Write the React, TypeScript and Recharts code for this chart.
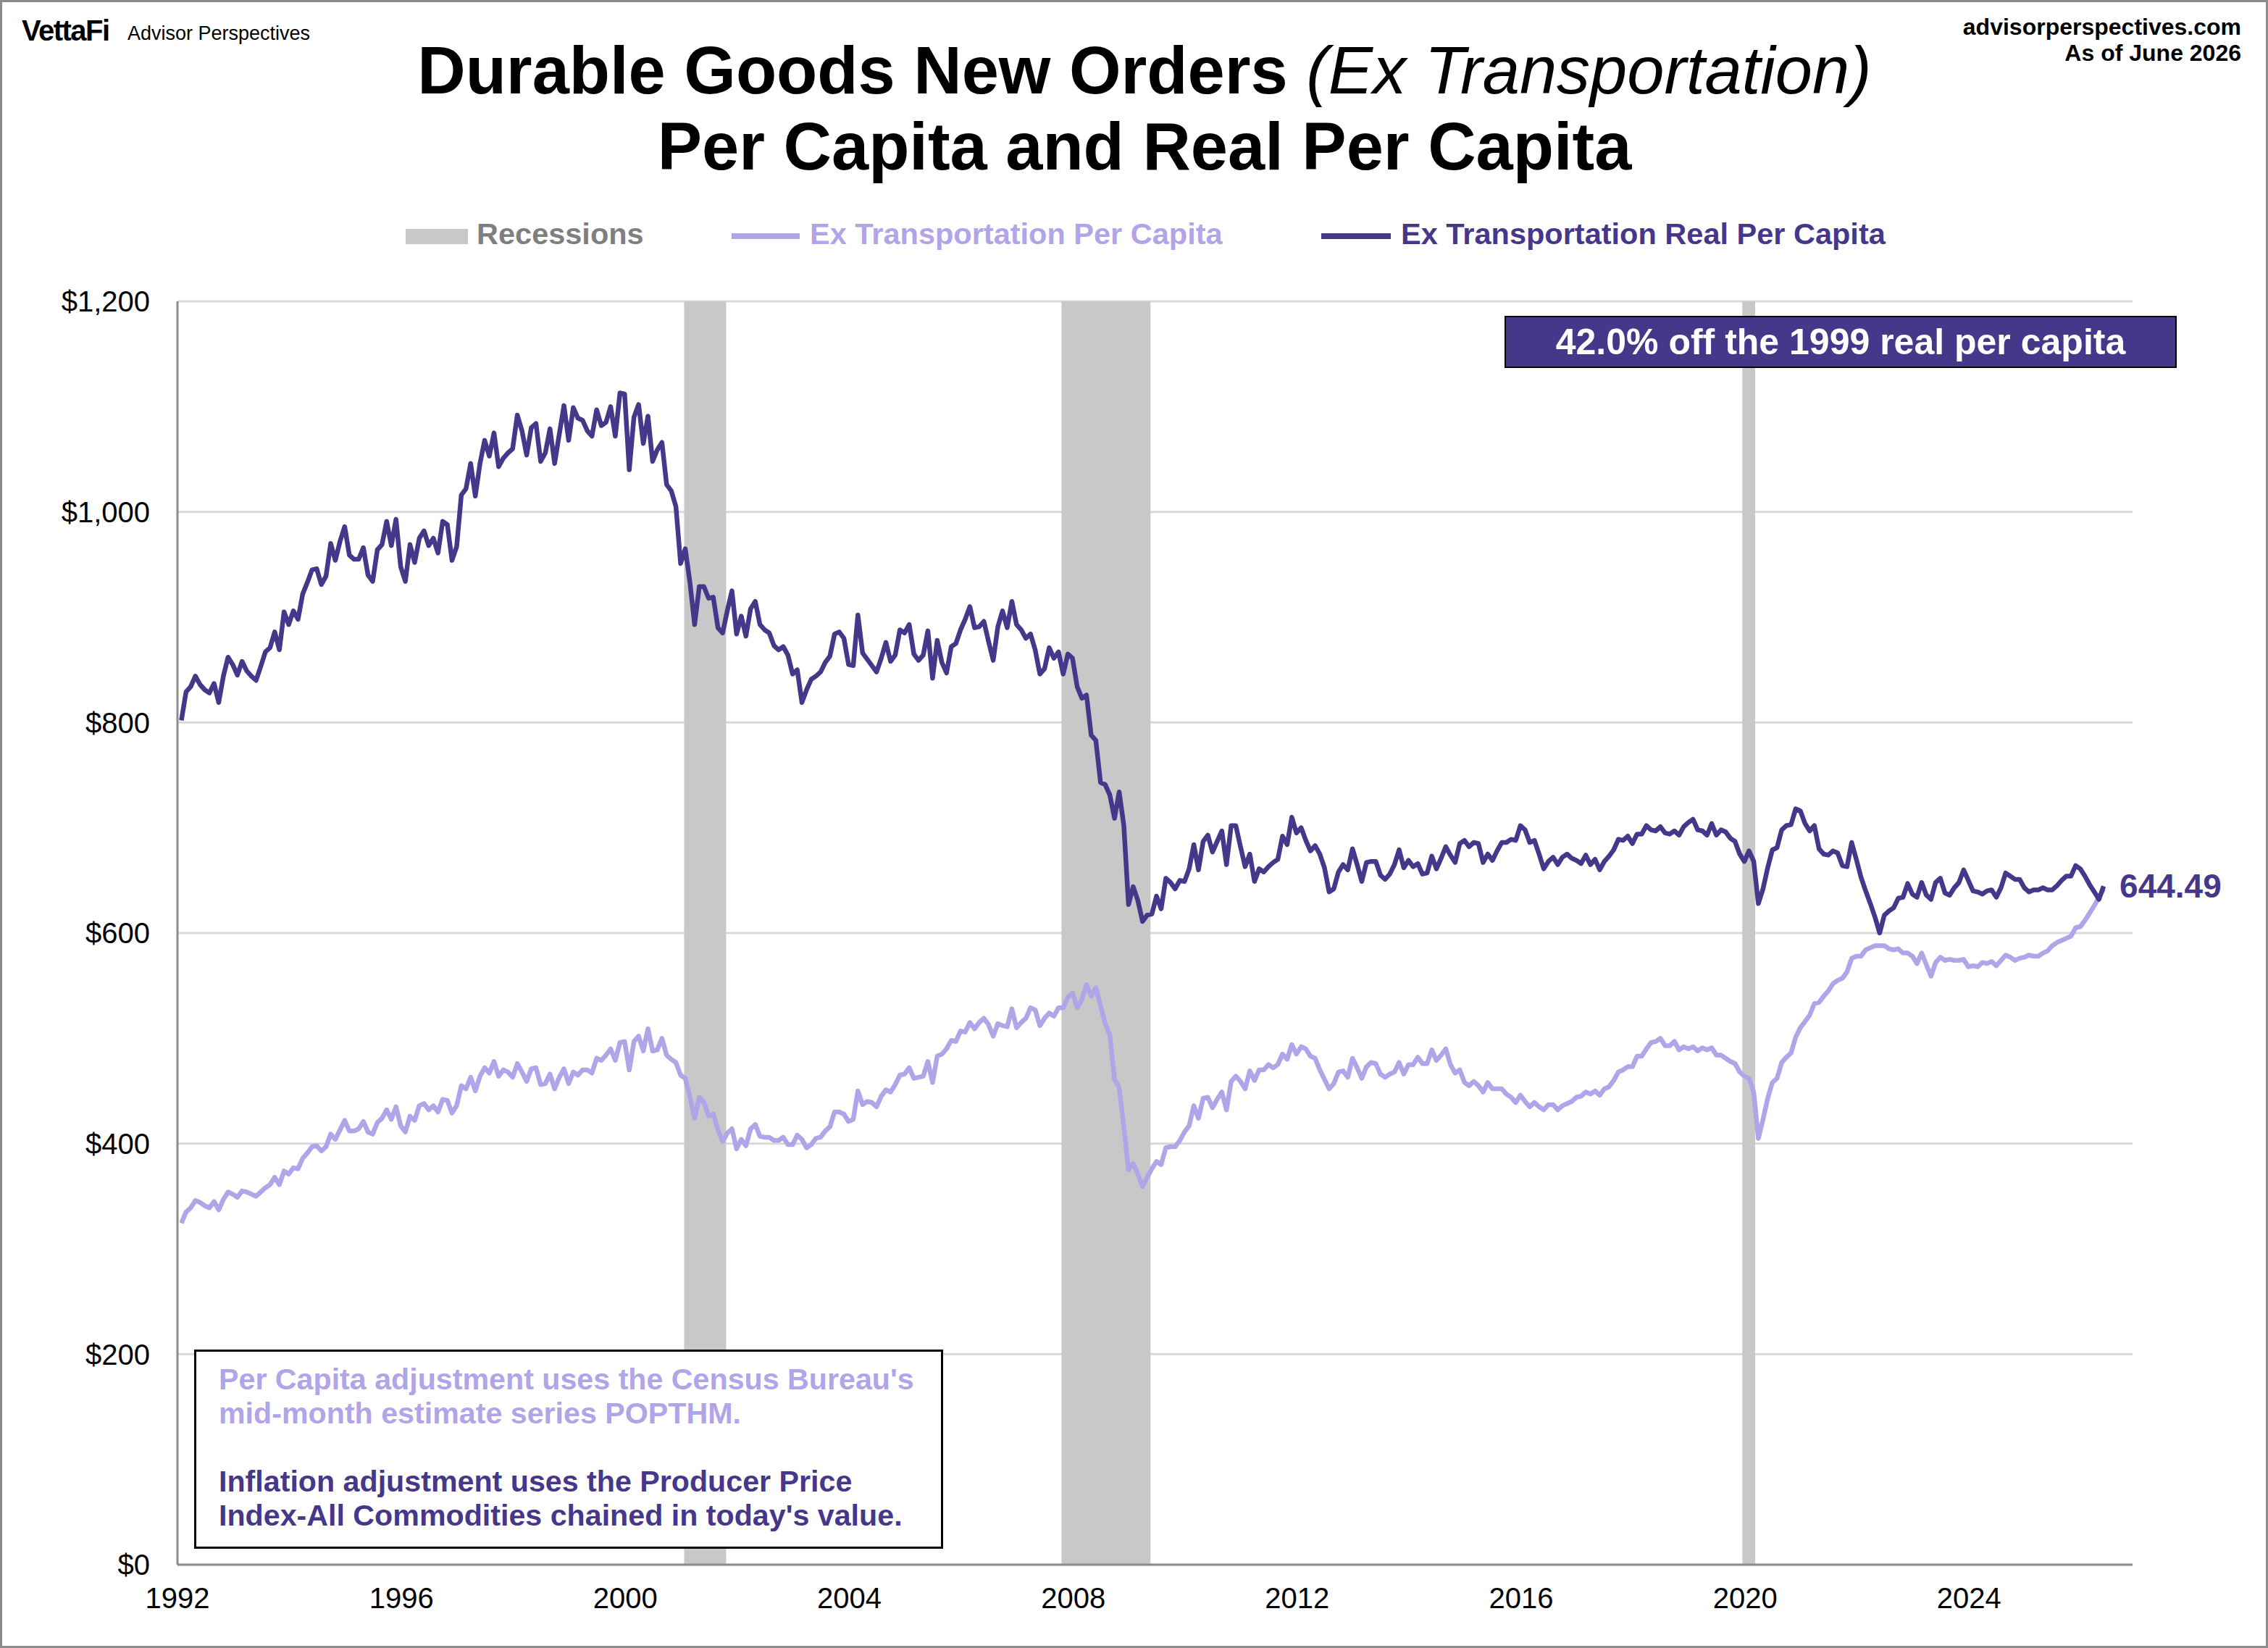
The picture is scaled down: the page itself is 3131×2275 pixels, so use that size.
import React from "react";
import {
  CartesianGrid,
  Line,
  LineChart,
  ReferenceArea,
  ReferenceDot,
  XAxis,
  YAxis,
} from "recharts";

// Durable goods new orders ex transportation, per capita (nominal) and real per capita.
// Monthly values, Jan 1992 .. May 2026.

const FONT = "'Liberation Sans', Arial, Helvetica, sans-serif";
const DARK = "#46378b";
const LIGHT = "#b1a4e8";
const RECESSION_GRAY = "#c8c8c8";

const FIRST_MONTH = 1992.07; // where the Jan 1992 point sits on the year axis
const YEAR_TICKS = [1992, 1996, 2000, 2004, 2008, 2012, 2016, 2020, 2024];
const DOLLAR_TICKS = [0, 200, 400, 600, 800, 1000, 1200];
const RECESSIONS: [number, number][] = [
  [2001.05, 2001.8],
  [2007.79, 2009.38],
  [2019.95, 2020.18],
];

// one row per year
const REAL_PER_CAPITA = [
  802, 829, 834, 844, 836, 831, 828, 837, 819, 844, 862, 855,
  845, 858, 849, 844, 840, 853, 867, 871, 886, 869, 905, 893,
  906, 898, 922, 933, 945, 946, 931, 939, 970, 954, 972, 986,
  959, 955, 955, 966, 940, 934, 964, 969, 991, 968, 993, 948,
  934, 969, 952, 975, 982, 968, 975, 961, 991, 988, 954, 967,
  1016, 1022, 1046, 1015, 1046, 1068, 1053, 1075, 1043, 1051, 1056, 1060,
  1092, 1077, 1054, 1080, 1084, 1048, 1056, 1079, 1046, 1074, 1101, 1068,
  1099, 1089, 1087, 1077, 1072, 1097, 1082, 1085, 1100, 1072, 1113, 1112,
  1040, 1090, 1102, 1065, 1091, 1048, 1059, 1066, 1026, 1020, 1005, 951,
  965, 933, 893, 929, 929, 918, 919, 890, 885, 906, 925, 884,
  901, 882, 908, 915, 893, 888, 885, 873, 869, 872, 864, 846,
  850, 819, 831, 841, 844, 848, 857, 863, 884, 886, 880, 855,
  854, 902, 866, 860, 854, 848, 861, 876, 858, 864, 888, 885,
  893, 865, 859, 864, 887, 842, 878, 857, 847, 872, 875, 888,
  898, 910, 890, 891, 896, 877, 859, 891, 906, 890, 915, 893,
  888, 880, 884, 869, 846, 851, 871, 861, 867, 846, 865, 861,
  834, 823, 826, 788, 783, 743, 741, 731, 709, 734, 702, 627,
  644, 631, 611, 617, 618, 635, 623, 652, 648, 642, 650, 649,
  661, 684, 660, 687, 693, 677, 687, 697, 665, 702, 702, 682,
  663, 675, 649, 661, 658, 663, 667, 670, 692, 684, 710, 695,
  700, 688, 678, 683, 675, 662, 639, 642, 658, 665, 660, 680,
  665, 649, 667, 668, 668, 655, 651, 656, 665, 679, 662, 669,
  663, 666, 656, 657, 673, 661, 671, 682, 674, 667, 685, 688,
  682, 686, 685, 667, 675, 669, 678, 686, 686, 689, 688, 702,
  698, 686, 688, 675, 661, 668, 672, 665, 672, 675, 671, 669,
  666, 674, 665, 670, 660, 668, 673, 679, 689, 688, 692, 685,
  694, 694, 702, 698, 697, 701, 695, 694, 697, 693, 701, 705,
  708, 698, 697, 693, 704, 693, 698, 696, 690, 687, 675, 668,
  678, 668, 628, 642, 662, 679, 681, 698, 702, 703, 718, 716,
  704, 697, 702, 680, 675, 674, 678, 676, 664, 663, 686, 670,
  653, 640, 628, 615, 600, 617, 621, 624, 633, 634, 647, 637,
  634, 648, 636, 632, 648, 652, 638, 636, 643, 648, 660, 650,
  640, 639, 637, 640, 641, 634, 643, 657, 654, 651, 651, 643,
  639, 641, 641, 643, 641, 641, 645, 650, 654, 654, 664, 661,
  654, 646, 639, 632, 644.49,
];

const PER_CAPITA = [
  324.5, 335, 339, 346, 344, 341, 339, 345, 337, 347, 354, 352,
  349, 355, 354, 352, 350, 354, 358, 361, 368, 361, 374, 371,
  377, 376, 386, 391, 397, 398, 393, 397, 409, 404, 413, 422,
  412, 412, 414, 421, 411, 409, 420, 424, 432, 423, 435, 417,
  411, 426, 422, 436, 438, 432, 436, 430, 442, 441, 429, 436,
  455, 452, 463, 450, 464, 472, 467, 478, 464, 470, 468, 463,
  476, 468, 459, 471, 472, 456, 457, 466, 452, 463, 471, 457,
  468, 465, 470, 470, 467, 481, 479, 484, 490, 479, 496, 497,
  470, 497, 502, 488, 509, 488, 489, 500, 484, 480, 477, 465,
  462, 444, 424, 444, 439, 426, 428, 413, 402, 410, 414, 395,
  404, 398, 414, 418, 407, 406, 406, 403, 403, 406, 399, 399,
  408, 404, 396, 399, 405, 406, 412, 416, 430, 430, 428, 421,
  423, 450, 437, 440, 439, 435, 445, 451, 449, 456, 465, 466,
  472, 462, 463, 464, 478, 458, 483, 485, 490, 498, 497, 507,
  506, 515, 509, 515, 519, 513, 502, 514, 512, 511, 528, 510,
  515, 519, 529, 527, 512, 519, 524, 521, 529, 529, 539, 543,
  529, 537, 551, 540, 548, 531, 514, 503, 461, 453, 416, 375,
  381, 371, 359, 368, 376, 383, 380, 396, 397, 397, 403, 411,
  417, 436, 424, 443, 444, 434, 442, 449, 432, 459, 464, 459,
  452, 469, 460, 470, 470, 475, 472, 475, 485, 480, 494, 485,
  492, 490, 483, 481, 470, 461, 452, 457, 468, 469, 463, 481,
  472, 462, 473, 477, 476, 466, 463, 466, 468, 477, 466, 475,
  475, 482, 476, 476, 489, 479, 484, 490, 475, 467, 470, 458,
  455, 459, 455, 449, 458, 452, 452, 452, 447, 444, 439, 446,
  440, 435, 439, 435, 432, 437, 437, 432, 436, 438, 440, 444,
  445, 449, 447, 450, 446, 452, 454, 460, 468, 470, 473, 473,
  483, 483, 490, 496, 497, 500, 493, 493, 497, 489, 492, 490,
  492, 488, 491, 489, 491, 484, 484, 481, 478, 476, 468, 464,
  462, 449, 405, 423, 443, 458, 462, 477, 482, 486, 501, 510,
  516, 522, 533, 534, 540, 545, 552, 555, 557, 563, 576, 578,
  578, 584, 586, 588, 588, 588, 585, 584, 585, 581, 581, 578,
  571, 581, 570, 559, 572, 577, 574, 575, 574, 574, 575, 568,
  569, 568, 572, 571, 573, 569, 574, 579, 577, 574, 576, 577,
  579, 578, 578, 581, 583, 588, 591, 593, 595, 597, 605, 606,
  612, 619, 626, 634, 642,
];

const rows = REAL_PER_CAPITA.map((real, i) => ({
  t: FIRST_MONTH + i / 12,
  real,
  perCapita: PER_CAPITA[i],
}));
const last = rows[rows.length - 1];

const fmtDollar = (v: number) => "$" + v.toLocaleString("en-US");

function EndLabel(props: any) {
  const { cx, cy } = props;
  return (
    <text x={cx + 22} y={cy} dy="0.35em" fill={DARK} fontSize={46} fontWeight="bold" fontFamily={FONT}>
      {last.real.toFixed(2)}
    </text>
  );
}

const abs = (s: React.CSSProperties): React.CSSProperties => ({ position: "absolute", ...s });

export default function App() {
  return (
    <div
      style={{
        position: "absolute",
        left: 0,
        top: 0,
        width: 3131,
        height: 2275,
        background: "#fff",
        overflow: "hidden",
        fontFamily: FONT,
      }}
    >
      <LineChart
        width={3131}
        height={2275}
        data={rows}
        margin={{ top: 416, right: 187, bottom: 35, left: 45 }}
        style={{ position: "absolute", left: 0, top: 0 }}
      >
        <CartesianGrid vertical={false} stroke="#d9d9d9" strokeWidth={3} />
        {RECESSIONS.map(([a, b]) => (
          <ReferenceArea key={a} x1={a} x2={b} fill={RECESSION_GRAY} fillOpacity={1} stroke="none" />
        ))}
        <Line
          dataKey="perCapita"
          stroke={LIGHT}
          strokeWidth={6.5}
          dot={false}
          strokeLinejoin="round"
          isAnimationActive={false}
        />
        <Line
          dataKey="real"
          stroke={DARK}
          strokeWidth={6.5}
          dot={false}
          strokeLinejoin="round"
          isAnimationActive={false}
        />
        <XAxis
          type="number"
          dataKey="t"
          domain={[1992, 2026.92]}
          ticks={YEAR_TICKS}
          interval={0}
          allowDataOverflow
          height={80}
          tickLine={false}
          tickSize={0}
          tickMargin={32}
          axisLine={{ stroke: "#8c8c8c", strokeWidth: 3 }}
          tick={{ fontSize: 40, fill: "#000", fontFamily: FONT }}
        />
        <YAxis
          domain={[0, 1200]}
          ticks={DOLLAR_TICKS}
          interval={0}
          width={200}
          tickLine={false}
          tickSize={0}
          tickMargin={38}
          tickFormatter={fmtDollar}
          axisLine={{ stroke: "#8c8c8c", strokeWidth: 3 }}
          tick={{ fontSize: 40, fill: "#000", fontFamily: FONT }}
        />
        <ReferenceDot x={last.t} y={last.real} r={0} shape={EndLabel} ifOverflow="visible" />
      </LineChart>

      {/* brand + source */}
      <div style={abs({ left: 30, top: 20, fontSize: 40, lineHeight: "44px", fontWeight: "bold", letterSpacing: -1.5 })}>
        VettaFi
      </div>
      <div style={abs({ left: 176, top: 31, fontSize: 27, lineHeight: "30px" })}>Advisor Perspectives</div>
      <div style={abs({ right: 37, top: 19, fontSize: 32, lineHeight: "36px", fontWeight: "bold", textAlign: "right" })}>
        advisorperspectives.com
        <br />
        As of June 2026
      </div>

      {/* title */}
      <div style={abs({ left: 80, width: 3000, top: 45, fontSize: 92, lineHeight: "105px", fontWeight: "bold", textAlign: "center" })}>
        Durable Goods New Orders <span style={{ fontStyle: "italic", fontWeight: "normal" }}>(Ex Transportation)</span>
        <br />
        Per Capita and Real Per Capita
      </div>

      {/* legend */}
      <div style={abs({ left: 560, top: 316, width: 86, height: 21, background: RECESSION_GRAY })} />
      <div style={abs({ left: 658, top: 300, fontSize: 41.5, lineHeight: "46px", fontWeight: "bold", color: "#7f7f7f" })}>
        Recessions
      </div>
      <div style={abs({ left: 1010, top: 322, width: 94, height: 8, background: LIGHT })} />
      <div style={abs({ left: 1118, top: 300, fontSize: 41.5, lineHeight: "46px", fontWeight: "bold", color: LIGHT })}>
        Ex Transportation Per Capita
      </div>
      <div style={abs({ left: 1824, top: 322, width: 96, height: 8, background: DARK })} />
      <div style={abs({ left: 1934, top: 300, fontSize: 41.5, lineHeight: "46px", fontWeight: "bold", color: DARK })}>
        Ex Transportation Real Per Capita
      </div>

      {/* call-out */}
      <div
        style={abs({
          left: 2077,
          top: 436,
          width: 928,
          height: 72,
          boxSizing: "border-box",
          border: "2px solid #000",
          background: DARK,
          color: "#fff",
          fontSize: 50,
          fontWeight: "bold",
          display: "flex",
          alignItems: "center",
          justifyContent: "center",
        })}
      >
        42.0% off the 1999 real per capita
      </div>

      {/* methodology note */}
      <div
        style={abs({
          left: 268,
          top: 1863,
          width: 1034,
          height: 275,
          boxSizing: "border-box",
          border: "3px solid #000",
          background: "#fff",
          padding: "15px 0 0 31px",
          fontSize: 41.2,
          lineHeight: "47px",
          fontWeight: "bold",
        })}
      >
        <div style={{ color: LIGHT }}>
          Per Capita adjustment uses the Census Bureau's
          <br />
          mid-month estimate series POPTHM.
        </div>
        <div style={{ height: 47 }} />
        <div style={{ color: DARK }}>
          Inflation adjustment uses the Producer Price
          <br />
          Index-All Commodities chained in today's value.
        </div>
      </div>

      {/* frame */}
      <div
        style={abs({
          left: 0,
          top: 0,
          width: 3131,
          height: 2275,
          boxSizing: "border-box",
          border: "3px solid #8c8c8c",
          pointerEvents: "none",
        })}
      />
    </div>
  );
}
